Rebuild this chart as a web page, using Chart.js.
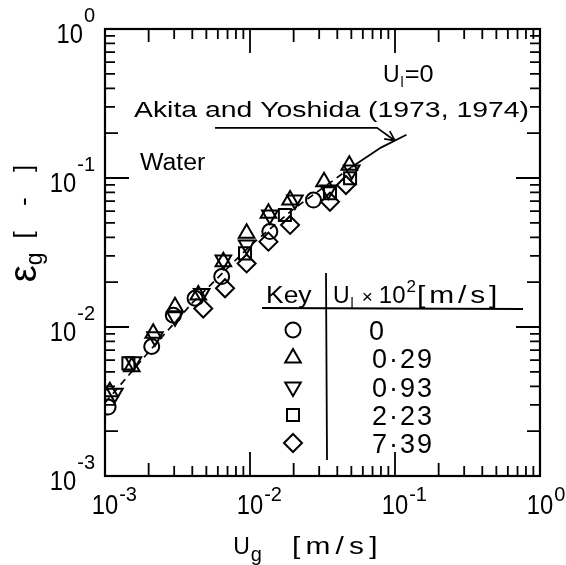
<!DOCTYPE html>
<html>
<head>
<meta charset="utf-8">
<script src="https://cdn.jsdelivr.net/npm/chart.js@4.4.0/dist/chart.umd.min.js"></script>
<style>
  html, body { margin: 0; padding: 0; background: #fff; }
  #wrap { width: 566px; height: 565px; position: relative; }
</style>
</head>
<body>
<div id="wrap"><canvas id="chart"></canvas></div>
<script>
// U_g [m/s] vs eps_g [-] for each liquid velocity U_l x 10^2 [m/s]
const ugKey0 = [0.00105, 0.0021, 0.00296, 0.00418, 0.00638, 0.0137, 0.0274];
const egKey0 = [0.0029, 0.0074, 0.0120, 0.0156, 0.0218, 0.0437, 0.0711];

const ugKey029 = [0.00108, 0.00153, 0.00215, 0.00304, 0.0044, 0.00655, 0.00948, 0.0134, 0.0189, 0.0324, 0.0484];
const egKey029 = [0.00368, 0.00542, 0.00907, 0.0137, 0.0164, 0.0274, 0.0426, 0.058, 0.0711, 0.0945, 0.122];

const ugKey093 = [0.00117, 0.00157, 0.00221, 0.00304, 0.00464, 0.00655, 0.00948, 0.0137, 0.0204, 0.0347, 0.0503];
const egKey093 = [0.00359, 0.00585, 0.0086, 0.0117, 0.0168, 0.0282, 0.0355, 0.0565, 0.0711, 0.083, 0.113];

const ugKey223 = [0.00145, 0.00924, 0.0174, 0.0356, 0.049];
const egKey223 = [0.0057, 0.0312, 0.0565, 0.0789, 0.0995];

const ugKey739 = [0.00476, 0.00673, 0.00948, 0.0134, 0.0189, 0.0356, 0.0459];
const egKey739 = [0.0133, 0.0182, 0.0267, 0.0374, 0.0484, 0.0693, 0.0898];

// Akita and Yoshida correlation (U_l = 0), dashed inside the data, solid beyond
const ugAkitaDash = [0.001, 0.002, 0.004, 0.01, 0.02, 0.05];
const egAkitaDash = [0.0031, 0.0068, 0.0145, 0.035, 0.062, 0.118];
const ugAkitaSolid = [0.05, 0.08, 0.12];
const egAkitaSolid = [0.118, 0.16, 0.195];

const keyLabels = ['0', '0·29', '0·93', '2·23', '7·39'];
const keyStyles = ['circle', 'triangle', 'triangle', 'rect', 'rectRot'];
const keyRotations = [0, 0, 180, 0, 0];
const keyRadius = [7.5, 9, 9, 8.5, 9];

const majorTicks = [0.001, 0.01, 0.1, 1];
const tickExponents = ['-3', '-2', '-1', '0'];

const toPoints = (xs, ys) => xs.map((v, i) => ({ x: v, y: ys[i] }));

const FONT = '"Liberation Sans", Arial, sans-serif';

function measure(ctx, p) {
  ctx.font = `${p.size}px ${FONT}`;
  ctx.letterSpacing = (p.ls || 0) + 'px';
  const w = ctx.measureText(p.t).width * (p.sx || 1);
  ctx.letterSpacing = '0px';
  return w;
}

function drawPart(ctx, p, x, y) {
  const w = measure(ctx, p);
  ctx.save();
  ctx.font = `${p.size}px ${FONT}`;
  ctx.letterSpacing = (p.ls || 0) + 'px';
  ctx.textAlign = 'left';
  ctx.textBaseline = 'alphabetic';
  ctx.translate(x, y + (p.dy || 0));
  ctx.scale(p.sx || 1, 1);
  ctx.fillText(p.t, 0, 0);
  ctx.restore();
  return x + w;
}

function drawRuns(ctx, parts, x, y, align) {
  let total = 0;
  parts.forEach(p => { total += measure(ctx, p) + (p.gap || 0); });
  let cx = x;
  if (align === 'right') cx = x - total;
  if (align === 'center') cx = x - total / 2;
  parts.forEach(p => { cx = drawPart(ctx, p, cx, y) + (p.gap || 0); });
}

const framePlugin = {
  id: 'framePlugin',
  afterDraw(chart) {
    const { ctx, chartArea: a, scales: { x, y } } = chart;
    ctx.save();
    ctx.fillStyle = '#000';
    ctx.strokeStyle = '#000';

    // box
    ctx.lineWidth = 2.2;
    ctx.strokeRect(a.left, a.top, a.right - a.left, a.bottom - a.top);

    // inward ticks on all four sides
    ctx.lineWidth = 1.8;
    ctx.beginPath();
    for (let d = 0; d < majorTicks.length; d++) {
      for (let m = 1; m <= 9; m++) {
        const v = majorTicks[d] * m;
        if (v > 1.0001) break;
        const len = m === 1 ? 24 : (m === 2 ? 13 : 10);
        const px = x.getPixelForValue(v);
        const py = y.getPixelForValue(v);
        ctx.moveTo(px, a.bottom); ctx.lineTo(px, a.bottom - len);
        ctx.moveTo(px, a.top); ctx.lineTo(px, a.top + len);
        ctx.moveTo(a.left, py); ctx.lineTo(a.left + len, py);
        ctx.moveTo(a.right, py); ctx.lineTo(a.right - len, py);
      }
    }
    ctx.stroke();

    // tick labels 10^n
    majorTicks.forEach((v, i) => {
      const px = x.getPixelForValue(v);
      const w10 = measure(ctx, { t: '10', size: 27, sx: 0.88 });
      drawRuns(ctx, [
        { t: '10', size: 27, sx: 0.88, gap: 1 },
        { t: tickExponents[i], size: 20, dy: -13 }
      ], px - w10 / 2, a.bottom + 38, 'left');
      const py = y.getPixelForValue(v);
      drawRuns(ctx, [
        { t: '10', size: 27, sx: 0.88, gap: 1 },
        { t: tickExponents[i], size: 20, dy: -21 }
      ], a.left - 10, py + 14, 'right');
    });

    // x axis title
    drawRuns(ctx, [
      { t: 'U', size: 23, gap: 1 },
      { t: 'g', size: 20, dy: 7, gap: 30 },
      { t: '[m/s]', size: 23, sx: 1.3, ls: 4 }
    ], 308, 554, 'center');

    // y axis title (rotated)
    ctx.save();
    ctx.translate(36, 219);
    ctx.rotate(-Math.PI / 2);
    drawRuns(ctx, [
      { t: 'ε', size: 38, gap: 0 },
      { t: 'g', size: 23, dy: 6, gap: 14 },
      { t: '[ - ]', size: 26, ls: 9, dy: -4 }
    ], 0, 0, 'center');
    ctx.restore();

    // annotations
    drawRuns(ctx, [
      { t: 'U', size: 23, gap: 1 },
      { t: 'l', size: 14, dy: 5, gap: 1 },
      { t: '=0', size: 23, sx: 1.1 }
    ], 383, 82, 'left');
    drawRuns(ctx, [{ t: 'Akita and Yoshida (1973, 1974)', size: 22, sx: 1.29 }], 134, 117, 'left');
    drawRuns(ctx, [{ t: 'Water', size: 23, sx: 1.08 }], 140, 170, 'left');

    // arrow to the correlation line
    const ax0 = x.getPixelForValue(0.00574), ay0 = y.getPixelForValue(0.217);
    const ax1 = x.getPixelForValue(0.0752);
    const tx = x.getPixelForValue(0.1), ty = y.getPixelForValue(0.178);
    ctx.lineWidth = 1.7;
    ctx.beginPath();
    ctx.moveTo(ax0, ay0); ctx.lineTo(ax1, ay0); ctx.lineTo(tx, ty);
    const ang = Math.atan2(ty - ay0, tx - ax1);
    ctx.moveTo(tx, ty); ctx.lineTo(tx - 11 * Math.cos(ang - 0.45), ty - 11 * Math.sin(ang - 0.45));
    ctx.moveTo(tx, ty); ctx.lineTo(tx - 11 * Math.cos(ang + 0.45), ty - 11 * Math.sin(ang + 0.45));
    ctx.stroke();

    // key table
    ctx.lineWidth = 1.8;
    ctx.beginPath();
    ctx.moveTo(262, 308); ctx.lineTo(523, 309);
    ctx.moveTo(326, 273); ctx.lineTo(327, 460);
    ctx.stroke();
    drawRuns(ctx, [{ t: 'Key', size: 23, sx: 1.15 }], 266, 303, 'left');
    drawRuns(ctx, [
      { t: 'U', size: 23, gap: 1 },
      { t: 'l', size: 14, dy: 5, gap: 8 },
      { t: '×', size: 19, gap: 6 },
      { t: '10', size: 24, gap: 1 },
      { t: '2', size: 17, dy: -11, gap: 1 },
      { t: '[m/s]', size: 23, sx: 1.3, ls: 3 }
    ], 333, 303, 'left');
    const rowY = [330, 358, 387, 415, 443];
    keyLabels.forEach((lab, i) => {
      ctx.fillStyle = '#fff';
      ctx.strokeStyle = '#000';
      ctx.lineWidth = 2;
      Chart.helpers.drawPoint(ctx, {
        pointStyle: keyStyles[i], radius: keyRadius[i], rotation: keyRotations[i], borderWidth: 2
      }, 293, rowY[i]);
      ctx.fillStyle = '#000';
      drawRuns(ctx, [{ t: lab, size: 27, ls: 2 }], i === 0 ? 369 : 372, rowY[i] + 10, 'left');
    });
    ctx.restore();
  }
};

const markerBase = {
  showLine: false,
  borderColor: '#000',
  backgroundColor: 'rgba(0,0,0,0)',
  borderWidth: 2
};

new Chart(document.getElementById('chart'), {
  type: 'scatter',
  data: {
    datasets: [
      { ...markerBase, data: toPoints(ugKey0, egKey0), pointStyle: 'circle', pointRadius: 7.5 },
      { ...markerBase, data: toPoints(ugKey029, egKey029), pointStyle: 'triangle', pointRadius: 9 },
      { ...markerBase, data: toPoints(ugKey093, egKey093), pointStyle: 'triangle', pointRotation: 180, pointRadius: 9 },
      { ...markerBase, data: toPoints(ugKey223, egKey223), pointStyle: 'rect', pointRadius: 8.5 },
      { ...markerBase, data: toPoints(ugKey739, egKey739), pointStyle: 'rectRot', pointRadius: 9 },
      {
        data: toPoints(ugAkitaDash, egAkitaDash), showLine: true, pointRadius: 0,
        borderColor: '#000', borderWidth: 1.7, borderDash: [7, 5], fill: false
      },
      {
        data: toPoints(ugAkitaSolid, egAkitaSolid), showLine: true, pointRadius: 0,
        borderColor: '#000', borderWidth: 1.8, fill: false
      }
    ]
  },
  options: {
    responsive: true,
    maintainAspectRatio: false,
    animation: false,
    layout: { padding: { left: 105, right: 26, top: 29, bottom: 89 } },
    plugins: { legend: { display: false }, tooltip: { enabled: false } },
    scales: {
      x: { type: 'logarithmic', min: 0.001, max: 1, display: false },
      y: { type: 'logarithmic', min: 0.001, max: 1, display: false }
    }
  },
  plugins: [framePlugin]
});
</script>
</body>
</html>
